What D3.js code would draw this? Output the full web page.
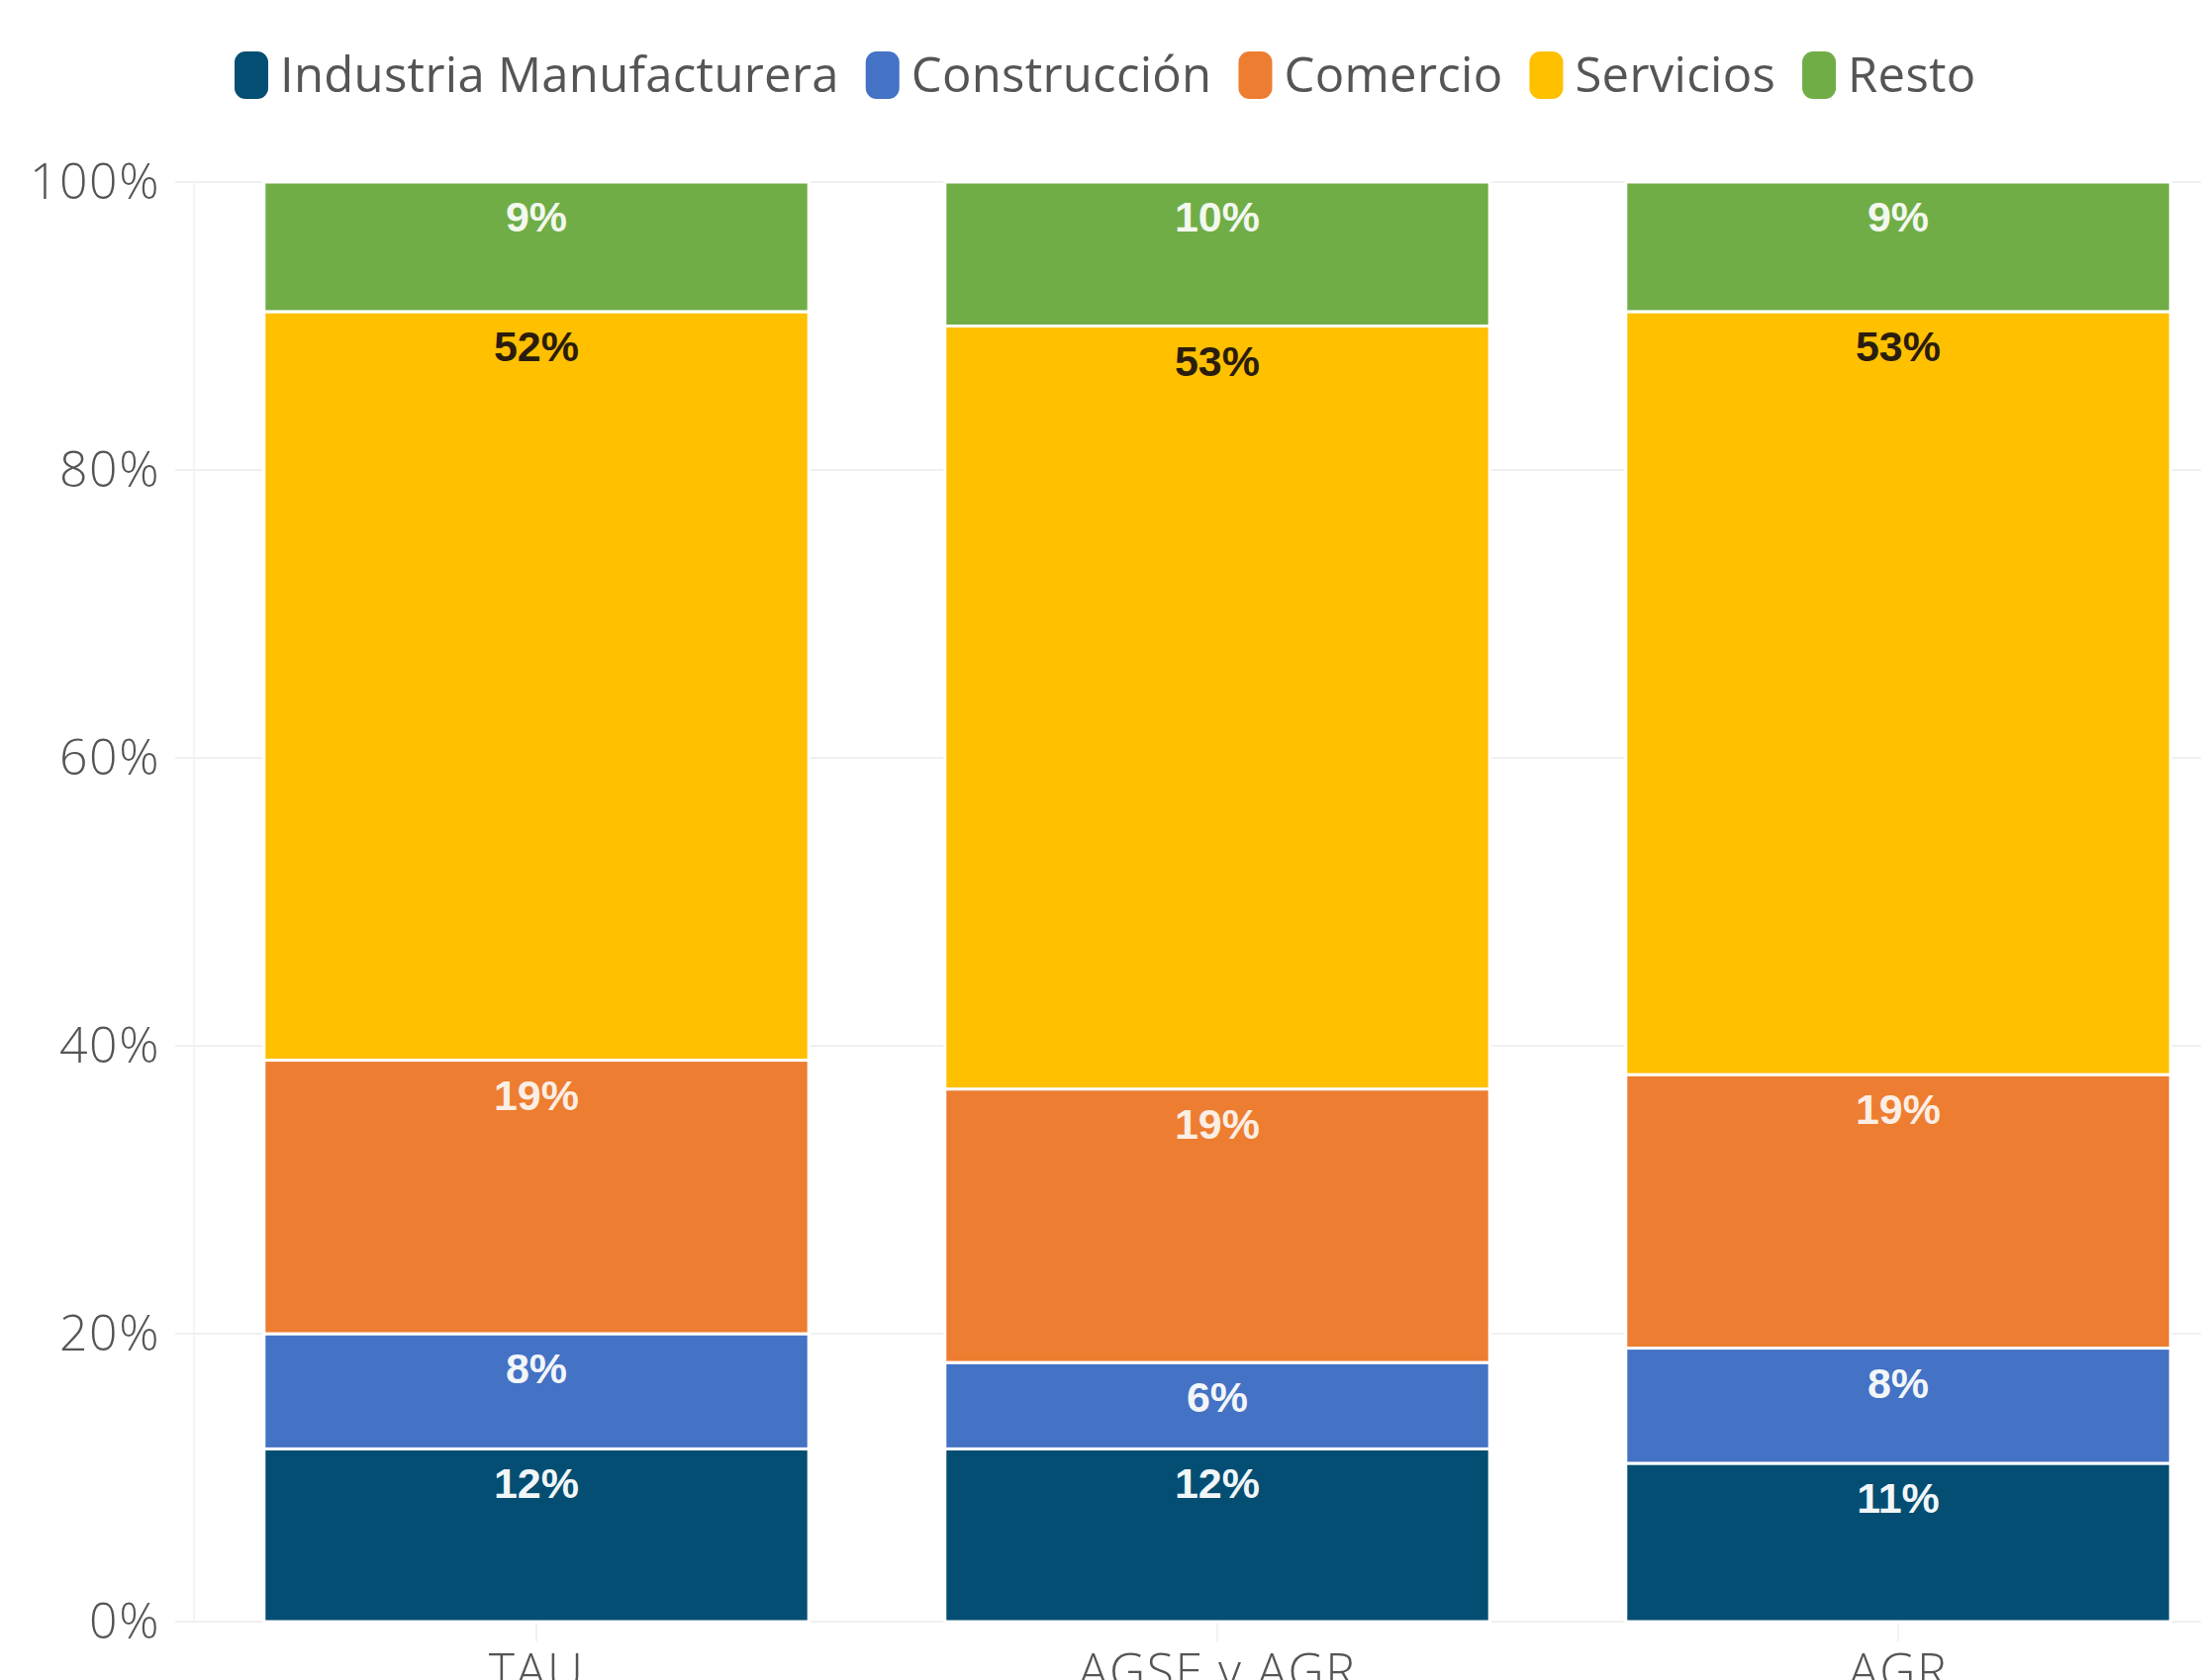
<!DOCTYPE html>
<html>
<head>
<meta charset="utf-8">
<script src="https://cdn.jsdelivr.net/npm/d3@7"></script>
<style>
  html, body { margin: 0; padding: 0; background: #fff; }
  svg { display: block; }
</style>
</head>
<body>
<div id="chart"></div>
<script>
// categories and series (percent shares, each bar sums to 100)
const categories = ['TAU', 'AGSE y AGR', 'AGR'];
const seriesNames = ['Industria Manufacturera', 'Construcción', 'Comercio', 'Servicios', 'Resto'];
const industria    = [12, 12, 11];
const construccion = [8, 6, 8];
const comercio     = [19, 19, 19];
const servicios    = [52, 53, 53];
const resto        = [9, 10, 9];
const yTicks = [0, 20, 40, 60, 80, 100];

const colors = ['#034e72', '#4472c4', '#ed7d31', '#ffc000', '#70ad47'];
const labelColors = ['#f2f6f8', '#f2f6f8', '#fbeee4', '#2b1d0e', '#f3f8ef'];

const W = 2224, H = 1698;
const m = { t: 184, b: 1698 - 1639, l: 177 };

const rows = categories.map((c, i) => ({
  cat: c,
  'Industria Manufacturera': industria[i],
  'Construcción': construccion[i],
  'Comercio': comercio[i],
  'Servicios': servicios[i],
  'Resto': resto[i],
}));

const stack = d3.stack().keys(seriesNames)(rows);

const svg = d3.select('#chart').append('svg')
  .attr('width', W).attr('height', H);

const x = d3.scaleBand().domain(categories)
  .range([198, 2262]).paddingInner(0.2).paddingOuter(0.1);
const y = d3.scaleLinear().domain([0, 100]).range([H - m.b, m.t]);

// grid
svg.append('g').selectAll('line.h').data(yTicks).join('line')
  .attr('x1', m.l).attr('x2', W)
  .attr('y1', d => y(d)).attr('y2', d => y(d))
  .attr('stroke', '#ebebeb').attr('stroke-width', 1.5);
svg.append('line')
  .attr('x1', 196).attr('x2', 196).attr('y1', m.t).attr('y2', H - m.b)
  .attr('stroke', '#f1f1f1').attr('stroke-width', 1.5);
svg.append('g').selectAll('line.v').data(categories).join('line')
  .attr('x1', d => x(d) + x.bandwidth() / 2).attr('x2', d => x(d) + x.bandwidth() / 2)
  .attr('y1', m.t).attr('y2', H - m.b + 20)
  .attr('stroke', '#eeeeee').attr('stroke-width', 1.5);

// y axis labels
const yAxis = svg.append('g').attr('transform', 'translate(162,0)')
  .call(d3.axisLeft(y).tickValues(yTicks).tickSize(0).tickPadding(0).tickFormat(d => d + '%'));
yAxis.select('.domain').remove();
yAxis.selectAll('text')
  .attr('font-family', '"Open Sans", sans-serif').attr('font-weight', 300)
  .attr('font-size', 50).attr('letter-spacing', 1.5).attr('fill', '#555');

// bars
const layers = svg.append('g').selectAll('g').data(stack).join('g')
  .attr('fill', (d, i) => colors[i]);
layers.selectAll('rect').data(d => d).join('rect')
  .attr('x', d => x(d.data.cat))
  .attr('width', x.bandwidth())
  .attr('y', d => y(d[1]))
  .attr('height', d => y(d[0]) - y(d[1]))
  .attr('stroke', '#fff').attr('stroke-width', 3);

// segment labels
stack.forEach((layer, i) => {
  svg.append('g').selectAll('text').data(layer).join('text')
    .attr('x', d => x(d.data.cat) + x.bandwidth() / 2)
    .attr('y', d => y(d[1]) + 50)
    .attr('text-anchor', 'middle')
    .attr('font-family', '"Liberation Sans", Arial, sans-serif')
    .attr('font-weight', 700).attr('font-size', 43)
    .attr('fill', labelColors[i])
    .text(d => (d[1] - d[0]) + '%');
});

// x axis labels (cut off at the bottom edge, as in the source)
svg.append('g').selectAll('text').data(categories).join('text')
  .attr('x', d => x(d) + x.bandwidth() / 2)
  .attr('y', 1707)
  .attr('text-anchor', 'middle')
  .attr('font-family', '"Open Sans", sans-serif').attr('font-weight', 300)
  .attr('font-size', 50).attr('letter-spacing', 1.5).attr('fill', '#555')
  .text(d => d);

// legend
const leg = svg.append('g');
let lx = 237;
seriesNames.forEach((name, i) => {
  const g = leg.append('g').attr('transform', `translate(${lx},0)`);
  g.append('rect').attr('x', 0).attr('y', 52).attr('width', 34).attr('height', 48)
    .attr('rx', 11).attr('fill', colors[i]);
  const t = g.append('text').attr('x', 46).attr('y', 93)
    .attr('font-family', '"Open Sans", sans-serif').attr('font-size', 49)
    .attr('letter-spacing', 0.3)
    .attr('fill', '#555').text(name);
  lx += 46 + t.node().getComputedTextLength() + 27;
});
</script>
</body>
</html>
